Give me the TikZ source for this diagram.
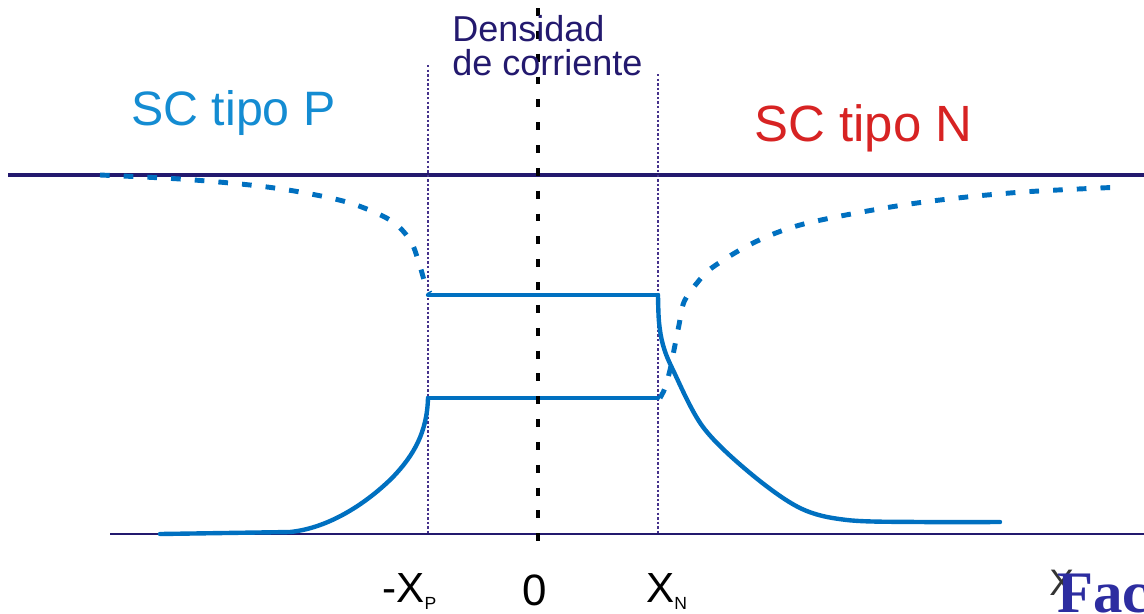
\documentclass[tikz,border=0pt]{standalone}
\usepackage{fontspec}
\setmainfont{Liberation Sans}
\newfontfamily\logofont{Liberation Serif}
\usepackage{tikz}
\definecolor{navy}{RGB}{35,25,110}
\definecolor{junc}{RGB}{70,50,140}
\definecolor{curve}{RGB}{0,112,192}
\definecolor{ptype}{RGB}{20,140,210}
\definecolor{ntype}{RGB}{215,35,35}
\definecolor{logo}{RGB}{45,45,160}
\tikzset{
  axis/.style={draw=navy, line width=2pt},
  floor/.style={draw=navy, line width=1.2pt},
  edge line/.style={draw=junc, line width=1.1pt, dash pattern=on 1.4pt off 1.2pt},
  center line/.style={draw=black, line width=2.8pt, dash pattern=on 4.5pt off 8.5pt},
  carrier/.style={draw=curve, line width=2.5pt, line cap=round, line join=round},
  minority/.style={draw=curve, line width=2.8pt, dash pattern=on 5.5pt off 8pt},
  label/.style={inner sep=0pt, anchor=base west},
}

\begin{document}
\begin{tikzpicture}[x=0.02cm, y=-0.02cm]
  \useasboundingbox (0,0) rectangle (1144,613);

  % zone limits
  \coordinate (AXL) at (8,175);     \coordinate (AXR) at (1144,175);
  \coordinate (FLL) at (110,534);   \coordinate (FLR) at (1144,534);
  \coordinate (XPtop) at (428,65);  \coordinate (XPbot) at (428,534);
  \coordinate (XNtop) at (658,74);  \coordinate (XNbot) at (658,534);
  \coordinate (Otop) at (538,8);    \coordinate (Obot) at (538,556);
  \coordinate (XPhi) at (428,295);  \coordinate (XNhi) at (658,295);
  \coordinate (XPlo) at (428,398);  \coordinate (XNlo) at (658,398);

  \draw[axis] (AXL) -- (AXR);
  \draw[floor] (FLL) -- (FLR);
  \draw[edge line] (XPtop) -- (XPbot);
  \draw[edge line] (XNtop) -- (XNbot);

  \draw[carrier] (XPhi) -- (XNhi);
  \draw[carrier] (XPlo) -- (XNlo);

  \draw[carrier] (160,534) -- (290,532) .. controls (330,528) and (368,502) .. (393,477)
    .. controls (414,455) and (427,432) .. (XPlo);
  \draw[carrier] plot[smooth, tension=0.55] coordinates {(XNhi) (659,322) (663,345) (673,370) (703,427) (750,473) (800,508) (847,520) (920,522) (1000,522)};

  \draw[minority] plot[smooth, tension=0.55] coordinates {(100,175) (180,179) (250,185) (300,192) (350,203) (390,220) (410,240) (419,263) (425,283) (430,293)};
  \draw[minority] plot[smooth, tension=0.55] coordinates {(660,398) (665,388) (670,370) (674,350) (679,325) (684,302) (697,283) (713,267) (753,243) (800,225) (873,210) (940,200) (1023,192) (1123,187)};

  \draw[center line] (Otop) -- (Obot);

  \node[label, text=ptype, font=\fontsize{27.5}{33}\selectfont] (SCP) at (131,125) {SC tipo P};
  \node[label, text=ntype, font=\fontsize{29}{35}\selectfont] (SCN) at (754,141) {SC tipo N};
  \node[label, text=navy, font=\fontsize{20.5}{24}\selectfont] (DENS) at (452,41) {Densidad};
  \node[label, text=navy, font=\fontsize{20.5}{24}\selectfont] (CORR) at (452,75) {de corriente};

  \node[label, font=\fontsize{24}{28}\selectfont] (XP) at (382,602) {-X\raisebox{-0.14cm}{\fontsize{10}{10}\selectfont P}};
  \node[inner sep=0pt, anchor=base, font=\fontsize{25}{30}\selectfont] (ZERO) at (535,605) {0};
  \node[label, font=\fontsize{24}{28}\selectfont] (XN) at (646,602) {X\raisebox{-0.14cm}{\fontsize{10}{10}\selectfont N}};
  \node[label, text=black!80, font=\fontsize{21}{25}\selectfont] (XAX) at (1049,595) {X};
  \node[label, text=logo, font=\logofont\bfseries\fontsize{33.5}{38}\selectfont] (FAC) at (1057,612) {Fac};
\end{tikzpicture}
\end{document}
